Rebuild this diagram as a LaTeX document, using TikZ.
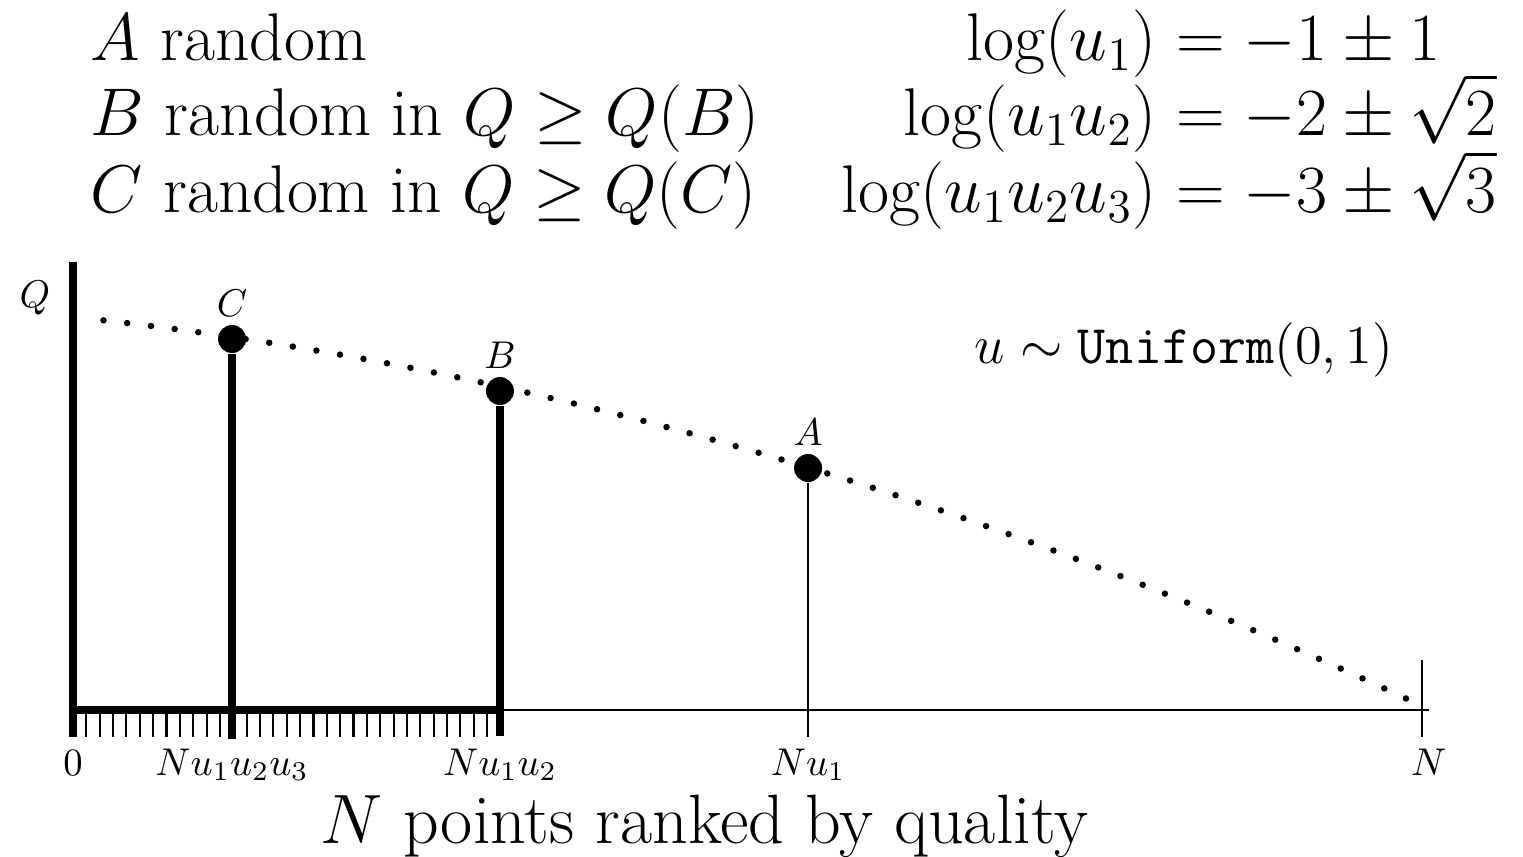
\RequirePackage{fix-cm}
\documentclass[tikz,border=0pt]{standalone}
\usepackage{amsmath, amssymb}
\usetikzlibrary{positioning}

\begin{document}
\begin{tikzpicture}[
    thickline/.style={line width=2.4pt},
    thinline/.style={line width=0.6pt},
    bigdot/.style={circle, fill=black, inner sep=0pt, minimum size=0.28cm},
    dotline/.style={line width=0.065cm, line cap=round, dash pattern=on 0pt off 0.239cm},
    ptlabel/.style={font=\fontsize{11}{13}\selectfont, inner sep=1pt},
    toptext/.style={font=\fontsize{19.2}{23}\selectfont, inner sep=0pt},
    bigtext/.style={font=\fontsize{19.9}{23.9}\selectfont, inner sep=0pt}
]

    \useasboundingbox (0,-1.46) rectangle (15.23,7.10);

    % --- TOP: the three draws ---
    \node[toptext, anchor=base west] (textA) at (0.90,6.50) {$A$ random};
    \node[toptext, anchor=base west] (textB) at (0.90,5.75) {$B$ random in $Q \geq Q(B)$};
    \node[toptext, anchor=base west] (textC) at (0.90,4.98) {$C$ random in $Q \geq Q(C)$};

    \node[toptext, anchor=base east] (logA) at (11.57,6.50) {$\log(u_1)$};
    \node[toptext, anchor=base west] (valA) at (11.57,6.50) {${} = -1 \pm 1$};
    \node[toptext, anchor=base east] (logB) at (11.57,5.75) {$\log(u_1 u_2)$};
    \node[toptext, anchor=base west] (valB) at (11.57,5.75) {${} = -2 \pm \smash[t]{\sqrt{2}}$};
    \node[toptext, anchor=base east] (logC) at (11.57,4.98) {$\log(u_1 u_2 u_3)$};
    \node[toptext, anchor=base west] (valC) at (11.57,4.98) {${} = -3 \pm \smash[t]{\sqrt{3}}$};

    \node[font=\fontsize{15.5}{18.5}\selectfont] (unif) at (11.84,3.60) {$u \sim \texttt{Uniform}(0,1)$};
    \node[ptlabel] (qlab) at (0.35,4.12) {$Q$};

    % --- GRAPH: quality against rank ---
    \begin{scope}[shift={(0.73,0)}, x=13.49cm]
        \draw[thickline] (0,-0.27) -- (0,4.48);
        \draw[thickline] (0,0) -- (0.3165,0);
        \draw[thinline] (0.3165,0) -- (1.005,0);
        \draw[thinline] (1,0.50) -- (1,-0.27);

        % ticks below the sampled range
        \foreach \i in {1,...,31}
            \draw[thinline] (\i*0.0099,0) -- (\i*0.0099,-0.27);

        % Q curve, drawn from the N end
        \draw[dotline, domain=0.9881:0.0178, samples=80, variable=\t]
            plot ({\t},{3.93 - 1.41*\t - 2.48*\t*\t});

        % C
        \node[bigdot] (C) at (0.1179,3.71) {};
        \coordinate (Cfoot) at (0.1179,-0.29);
        \draw[thickline] (C) -- (Cfoot);
        \node[ptlabel, above=1pt of C] (Clab) {$C$};

        % B
        \node[bigdot] (B) at (0.3165,3.19) {};
        \coordinate (Bfoot) at (0.3165,-0.26);
        \draw[thickline] (B) -- (Bfoot);
        \node[ptlabel, above=1pt of B] (Blab) {$B$};

        % A
        \node[bigdot] (A) at (0.5449,2.42) {};
        \coordinate (Afoot) at (0.5449,-0.27);
        \draw[thinline] (A) -- (Afoot);
        \node[ptlabel, above=1pt of A] (Alab) {$A$};

        % rank labels
        \node[ptlabel, anchor=base] (zeroLab) at (0,-0.65) {$0$};
        \node[ptlabel, anchor=base] (cLab) at (0.1179,-0.65) {$N u_1 u_2 u_3$};
        \node[ptlabel, anchor=base] (bLab) at (0.3165,-0.65) {$N u_1 u_2$};
        \node[ptlabel, anchor=base] (aLab) at (0.5449,-0.65) {$N u_1$};
        \node[ptlabel, anchor=base] (nLab) at (1.005,-0.65) {$N$};
    \end{scope}

    \node[bigtext, anchor=base] (xlabel) at (7.04,-1.33) {$N$ points ranked by quality};

\end{tikzpicture}
\end{document}
